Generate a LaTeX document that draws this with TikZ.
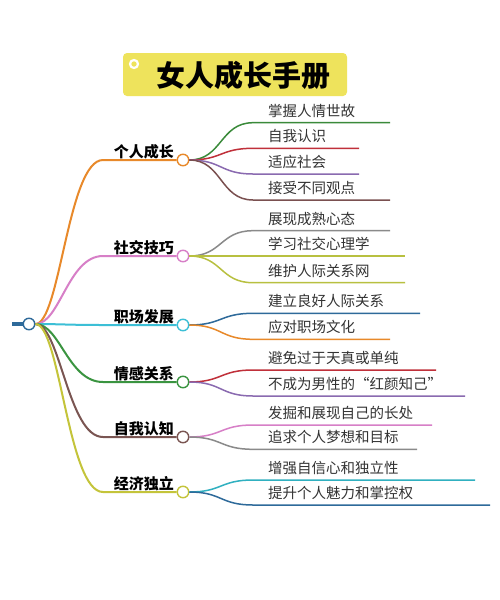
\documentclass[tikz,border=0pt]{standalone}
\usepackage{fontspec}
\newfontfamily\cjk{Noto Sans CJK SC}
\definecolor{cOrange}{HTML}{E8892A}
\definecolor{cPink}{HTML}{D77FC7}
\definecolor{cCyan}{HTML}{3CBFD6}
\definecolor{cGreen}{HTML}{3A9440}
\definecolor{cBrown}{HTML}{7A5552}
\definecolor{cOlive}{HTML}{C4C43A}
\definecolor{lGreen}{HTML}{3A8A3A}
\definecolor{lRed}{HTML}{C0303A}
\definecolor{lPurple}{HTML}{8A6AB0}
\definecolor{lBrown}{HTML}{7A5050}
\definecolor{lGray}{HTML}{8A8A8A}
\definecolor{lOlive}{HTML}{B8C040}
\definecolor{lBlue}{HTML}{2E6A9A}
\definecolor{lTeal}{HTML}{30B0C0}
\definecolor{lPink}{HTML}{D77FC7}
\definecolor{titleY}{HTML}{EEE35C}
\definecolor{txt}{HTML}{333333}
\tikzset{
  hub/.style={circle,draw=#1,fill=white,line width=1.4pt,minimum size=11.5pt,inner sep=0pt},
  blabel/.style={anchor=east,font=\cjk\bfseries\fontsize{15}{17}\selectfont,text=black,inner sep=0pt},
  llabel/.style={anchor=west,font=\cjk\fontsize{14.5}{16}\selectfont,text=txt,inner sep=0pt},
  bline/.style={draw=#1,line width=2pt},
  lline/.style={draw=#1,line width=1.5pt},
}
\begin{document}
\begin{tikzpicture}[x=1pt,y=-1pt]
\useasboundingbox (0,0) rectangle (500,600);
\fill[white] (0,0) rectangle (500,600);
% title
\fill[titleY,rounded corners=4pt] (123,53) rectangle (347,96);
\node[circle,draw=white,line width=2.2pt,minimum size=8pt,inner sep=0pt] (tdot) at (134,64) {};
\node[font=\cjk\bfseries\fontsize{29}{32}\selectfont,inner sep=0pt] (title) at (243,75) {女人成长手册};
% root
\coordinate (stub) at (12,324);
\node[hub=lBlue] (root) at (29,324) {};
\draw[draw=lBlue,line width=3.5pt] (stub) -- (root.west);
% branches: name, y, color, label
\foreach \n/\y/\c/\t in {b1/160/cOrange/个人成长, b2/256/cPink/社交技巧, b3/325/cCyan/职场发展, b4/382/cGreen/情感关系, b5/437/cBrown/自我认知, b6/492/cOlive/经济独立}{
  \coordinate (\n k) at (103,\y);
  \node[hub=\c] (\n) at (183,\y) {};
  \draw[bline=\c] (root.east) .. controls (60,324) and (68,\y) .. (\n k) -- (\n.west);
  \node[blabel] (\n t) at (174,\y-8) {\t};
}
% leaves: branch, branch y, name, y, endx, color, text
\foreach \b/\yb/\n/\y/\e/\c/\t in {
  b1/160/l11/122.7/390/lGreen/掌握人情世故,
  b1/160/l12/148.3/359/lRed/自我认识,
  b1/160/l13/174/359/lPurple/适应社会,
  b1/160/l14/200/390/lBrown/接受不同观点,
  b2/256/l21/230.7/390/lGray/展现成熟心态,
  b2/256/l22/256/405/lOlive/学习社交心理学,
  b2/256/l23/282.7/405/lOlive/维护人际关系网,
  b3/325/l31/313.3/420/lBlue/建立良好人际关系,
  b3/325/l32/339.3/390/cOrange/应对职场文化,
  b4/382/l41/370/436/lRed/避免过于天真或单纯,
  b4/382/l42/396/465/lPurple/不成为男性的“红颜知己”,
  b5/437/l51/425/432/lPink/发掘和展现自己的长处,
  b5/437/l52/449.3/417/lGray/追求个人梦想和目标,
  b6/492/l61/480/475/lTeal/增强自信心和独立性,
  b6/492/l62/505/490/lBlue/提升个人魅力和掌控权}{
  \coordinate (\n k) at (253,\y);
  \coordinate (\n e) at (\e,\y);
  \draw[lline=\c] (\b.east) .. controls (222,\yb) and (220,\y) .. (\n k) -- (\n e);
  \node[llabel] (\n t) at (268,\y-12) {\t};
}
\end{tikzpicture}
\end{document}
